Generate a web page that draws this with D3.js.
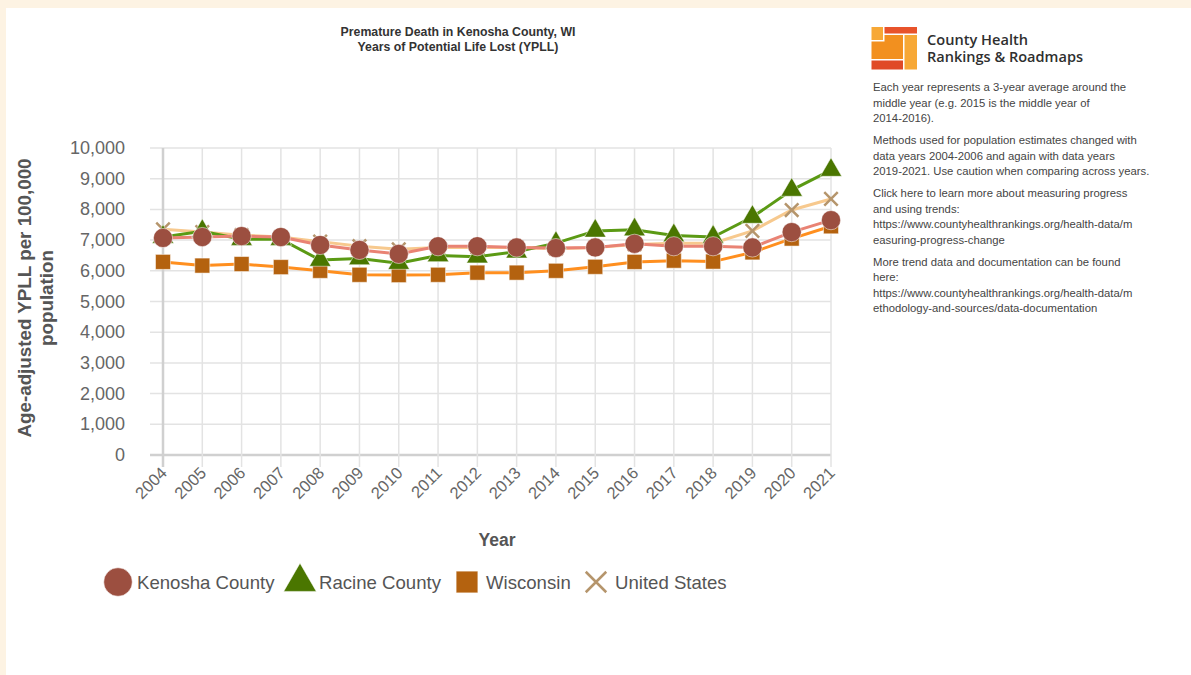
<!DOCTYPE html>
<html>
<head>
<meta charset="utf-8">
<script src="https://d3js.org/d3.v7.min.js"></script>
<style>
  body { margin: 0; background: #fff; }
  svg { display: block; font-family: "Liberation Sans", Arial, sans-serif; }
</style>
</head>
<body>
<div id="graph"></div>
<script>

// data
var years = [2004, 2005, 2006, 2007, 2008, 2009, 2010, 2011, 2012, 2013, 2014, 2015, 2016, 2017, 2018, 2019, 2020, 2021];
var kenosha = [7070, 7100, 7130, 7100, 6840, 6680, 6550, 6800, 6800, 6760, 6740, 6760, 6880, 6800, 6800, 6760, 7260, 7650];
var racine = [7100, 7290, 7030, 7030, 6350, 6400, 6250, 6500, 6460, 6620, 6900, 7300, 7340, 7150, 7100, 7750, 8630, 9280];
var wisconsin = [6290, 6170, 6220, 6120, 6000, 5870, 5860, 5870, 5940, 5940, 6000, 6130, 6290, 6330, 6300, 6600, 7050, 7450];
var unitedStates = [7350, 7260, 7160, 7100, 6950, 6800, 6700, 6760, 6760, 6760, 6720, 6760, 6860, 6900, 6900, 7300, 7980, 8340];
var yTicks = [0, 1000, 2000, 3000, 4000, 5000, 6000, 7000, 8000, 9000, 10000];
var seriesNames = ["Kenosha County", "Racine County", "Wisconsin", "United States"];

var notes = [
  ["Each year represents a 3-year average around the", "middle year (e.g. 2015 is the middle year of", "2014-2016)."],
  ["Methods used for population estimates changed with", "data years 2004-2006 and again with data years", "2019-2021. Use caution when comparing across years."],
  ["Click here to learn more about measuring progress", "and using trends:", "https://www.countyhealthrankings.org/health-data/m", "easuring-progress-change"],
  ["More trend data and documentation can be found", "here:", "https://www.countyhealthrankings.org/health-data/m", "ethodology-and-sources/data-documentation"]
];

var W = 1191, H = 675;
var svg = d3.select("#graph").append("svg")
  .attr("width", W).attr("height", H);

// cream frame at top and left
svg.append("rect").attr("width", W).attr("height", H).attr("fill", "#fdf3e3");
svg.append("rect").attr("x", 6).attr("y", 8).attr("width", W - 6).attr("height", H - 8).attr("fill", "#fff");

var x = d3.scaleLinear().domain([2004, 2021]).range([163, 831]);
var y = d3.scaleLinear().domain([0, 10000]).range([455, 148]);

// title
svg.append("text").attr("x", 458).attr("y", 36).attr("text-anchor", "middle")
  .attr("font-size", "12.3px").attr("font-weight", "bold").attr("fill", "#333")
  .text("Premature Death in Kenosha County, WI");
svg.append("text").attr("x", 458).attr("y", 51).attr("text-anchor", "middle")
  .attr("font-size", "12.3px").attr("font-weight", "bold").attr("fill", "#333")
  .text("Years of Potential Life Lost (YPLL)");

// grid
svg.append("g").selectAll("line").data(yTicks).enter().append("line")
  .attr("x1", 150).attr("x2", 831)
  .attr("y1", function(d) { return y(d); }).attr("y2", function(d) { return y(d); })
  .attr("stroke", function(d) { return d === 0 ? "#d0d0d0" : "#e3e3e3"; })
  .attr("stroke-width", function(d) { return d === 0 ? 2.5 : 1.5; });
svg.append("g").selectAll("line").data(years).enter().append("line")
  .attr("x1", function(d) { return x(d); }).attr("x2", function(d) { return x(d); })
  .attr("y1", y(10000)).attr("y2", 467)
  .attr("stroke", function(d) { return d === 2004 ? "#d0d0d0" : "#e3e3e3"; })
  .attr("stroke-width", function(d) { return d === 2004 ? 2.5 : 1.5; });

// y tick labels
svg.append("g").selectAll("text").data(yTicks).enter().append("text")
  .attr("x", 125).attr("y", function(d) { return y(d) + 6; })
  .attr("text-anchor", "end").attr("font-size", "18px").attr("fill", "#666")
  .text(function(d) { return d3.format(",")(d); });

// x tick labels
svg.append("g").selectAll("text").data(years).enter().append("text")
  .attr("transform", function(d) { return "translate(" + (x(d) + 5) + ",474) rotate(-45)"; })
  .attr("text-anchor", "end").attr("font-size", "16.5px").attr("fill", "#666")
  .text(function(d) { return d; });

// axis titles
svg.append("text").attr("transform", "translate(31,298) rotate(-90)")
  .attr("text-anchor", "middle").attr("font-size", "18.8px").attr("font-weight", "bold").attr("fill", "#555")
  .text("Age-adjusted YPLL per 100,000");
svg.append("text").attr("transform", "translate(53,298) rotate(-90)")
  .attr("text-anchor", "middle").attr("font-size", "18.8px").attr("font-weight", "bold").attr("fill", "#555")
  .text("population");
svg.append("text").attr("x", 497).attr("y", 546).attr("text-anchor", "middle")
  .attr("font-size", "17.5px").attr("font-weight", "bold").attr("fill", "#555")
  .text("Year");

// lines
var series = [
  {name: seriesNames[3], values: unitedStates, line: "#f7c98e", mark: "#b5956c", shape: "x"},
  {name: seriesNames[2], values: wisconsin, line: "#ff8f1f", mark: "#b4620f", shape: "square"},
  {name: seriesNames[1], values: racine, line: "#5b9a14", mark: "#4a7600", shape: "triangle"},
  {name: seriesNames[0], values: kenosha, line: "#e98374", mark: "#9c4f40", shape: "circle"}
];

var line = d3.line()
  .x(function(d, i) { return x(years[i]); })
  .y(function(d) { return y(d); });

series.forEach(function(s) {
  svg.append("path").datum(s.values)
    .attr("d", line).attr("fill", "none")
    .attr("stroke", s.line).attr("stroke-width", 3);
});

function drawMark(g, shape, color, scale) {
  if (shape === "x") {
    g.append("path").attr("d", d3.symbol().type(d3.symbolX).size(120 * scale)())
      .attr("fill", "none").attr("stroke", color).attr("stroke-width", 2.5);
  } else {
    var type = shape === "circle" ? d3.symbolCircle : shape === "square" ? d3.symbolSquare : d3.symbolTriangle;
    var size = shape === "circle" ? 290 : shape === "square" ? 225 : 200;
    g.append("path").attr("d", d3.symbol().type(type).size(size * scale)())
      .attr("fill", color).attr("stroke", "rgba(255,255,255,0.5)").attr("stroke-width", 1);
  }
}

series.forEach(function(s) {
  s.values.forEach(function(v, i) {
    var g = svg.append("g").attr("transform", "translate(" + x(years[i]) + "," + y(v) + ")");
    drawMark(g, s.shape, s.mark, 1);
  });
});

// legend
var legend = [
  {name: seriesNames[0], shape: "circle", mark: "#9c4f40", x: 118, tx: 137},
  {name: seriesNames[1], shape: "triangle", mark: "#4a7600", x: 300, tx: 319},
  {name: seriesNames[2], shape: "square", mark: "#b4620f", x: 467, tx: 486},
  {name: seriesNames[3], shape: "x", mark: "#b5956c", x: 596, tx: 615}
];
legend.forEach(function(l) {
  var g = svg.append("g").attr("transform", "translate(" + l.x + ",582)");
  drawMark(g, l.shape, l.mark, l.shape === "circle" ? 2.2 : l.shape === "square" ? 2.1 : 2.3);
  svg.append("text").attr("x", l.tx).attr("y", 589)
    .attr("font-size", "18.6px").attr("fill", "#555").text(l.name);
});

// logo
var logo = svg.append("g");
logo.append("rect").attr("x", 871.5).attr("y", 27).attr("width", 11.5).attr("height", 13).attr("fill", "#f7a836");
logo.append("rect").attr("x", 884.5).attr("y", 27).attr("width", 32.5).attr("height", 6.5).attr("fill", "#e8532b");
logo.append("path").attr("d", "M884.5,35 H903 V59 H871.5 V41.5 H884.5 Z").attr("fill", "#f2901f");
logo.append("rect").attr("x", 904.5).attr("y", 35).attr("width", 12.5).attr("height", 34.5).attr("fill", "#f7a836");
logo.append("rect").attr("x", 871.5).attr("y", 60.5).attr("width", 31.5).attr("height", 9).attr("fill", "#e04a26");
svg.append("text").attr("x", 927).attr("y", 45).attr("font-family", "'Open Sans', sans-serif")
  .attr("font-size", "14.5px").attr("font-weight", "600").attr("fill", "#2f2f2f")
  .attr("textLength", 101).attr("lengthAdjust", "spacingAndGlyphs").text("County Health");
svg.append("text").attr("x", 927).attr("y", 62).attr("font-family", "'Open Sans', sans-serif")
  .attr("font-size", "14.5px").attr("font-weight", "600").attr("fill", "#2f2f2f")
  .attr("textLength", 156).attr("lengthAdjust", "spacingAndGlyphs").text("Rankings & Roadmaps");

// notes
var ny = 91;
notes.forEach(function(p) {
  p.forEach(function(t) {
    svg.append("text").attr("x", 873).attr("y", ny)
      .attr("font-size", "11.3px").attr("fill", "#444").text(t);
    ny += 15.5;
  });
  ny += 6.5;
});

</script>
</body>
</html>
